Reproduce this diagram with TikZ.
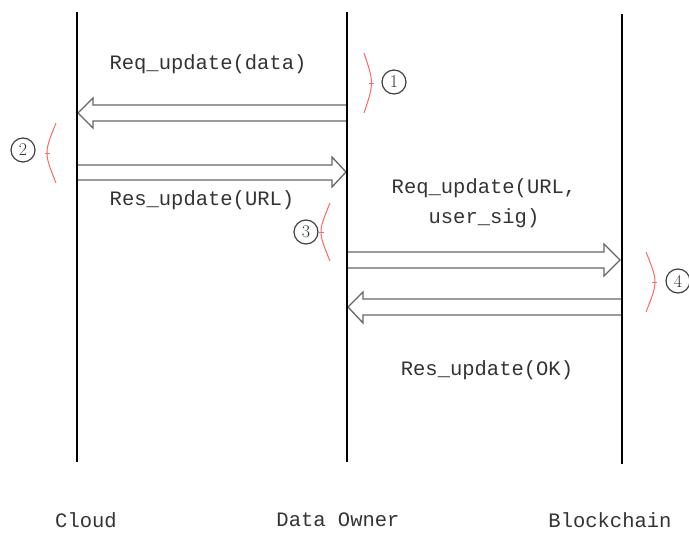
\documentclass[tikz,border=0pt]{standalone}
\usepackage{fontspec}
\setmonofont{Liberation Mono}
\begin{document}
\begin{tikzpicture}[x=1pt,y=-1pt,
  lifeline/.style={line width=2.6pt,black},
  blockarrow/.style={draw=black!60,line width=1.3pt,fill=white,line join=miter},
  lbl/.style={font=\ttfamily\fontsize{20.5}{22}\selectfont,text=black!80,inner sep=0pt},
  brk/.style={draw=red!60,line width=1pt},
  num/.style={circle,draw=black!75,line width=1.2pt,minimum size=24pt,inner sep=0pt,font=\fontsize{18}{19}\selectfont,text=black!80}]
\useasboundingbox (0,0) rectangle (689,533);
% lifeline endpoints
\coordinate (c1) at (77,12);  \coordinate (c2) at (77,462);
\coordinate (d1) at (347,12); \coordinate (d2) at (347,462);
\coordinate (b1) at (622,14); \coordinate (b2) at (622,464);
% block arrows
% 1: Data Owner -> Cloud
\draw[blockarrow] (347,105) -- (93,105) -- (93,98) -- (78,113) -- (93,128) -- (93,121) -- (347,121) -- cycle;
% 2: Cloud -> Data Owner
\draw[blockarrow] (77,165) -- (332,165) -- (332,157) -- (346,172) -- (332,187) -- (332,180) -- (77,180) -- cycle;
% 3: Data Owner -> Blockchain
\draw[blockarrow] (347,252) -- (604,252) -- (604,244) -- (620,260) -- (604,276) -- (604,268) -- (347,268) -- cycle;
% 4: Blockchain -> Data Owner
\draw[blockarrow] (622,299) -- (363,299) -- (363,292) -- (348,307) -- (363,323) -- (363,315) -- (622,315) -- cycle;
% lifelines
\draw[lifeline] (c1) -- (c2);
\draw[lifeline] (d1) -- (d2);
\draw[lifeline] (b1) -- (b2);
% labels
\node[lbl] (t1) at (208,64) {Req\_update(data)};
\node[lbl] (t2) at (202,200) {Res\_update(URL)};
\node[lbl] (t3) at (484,188) {Req\_update(URL,};
\node[lbl] (t3b) at (484,218) {user\_sig)};
\node[lbl] (t4) at (487,370) {Res\_update(OK)};
\node[lbl] (n1) at (86,520) {Cloud};
\node[lbl] (n2) at (338,520) {Data Owner};
\node[lbl] (n3) at (610,520) {Blockchain};
% brackets
\draw[brk] (364,53) .. controls (374,83) .. (364,113); \draw[brk] (369,83) -- (374,83);
\draw[brk] (56,123) .. controls (44,153) .. (56,183); \draw[brk] (50,153) -- (45,153);
\draw[brk] (330,203) .. controls (318,232) .. (330,261); \draw[brk] (324,232) -- (319,232);
\draw[brk] (646,252) .. controls (658,282) .. (646,312); \draw[brk] (652,282) -- (657,282);
% step numbers
\node[num] (s1) at (394,82) {1};
\node[num] (s2) at (23,150) {2};
\node[num] (s3) at (306,232) {3};
\node[num] (s4) at (678,281) {4};
\end{tikzpicture}
\end{document}
